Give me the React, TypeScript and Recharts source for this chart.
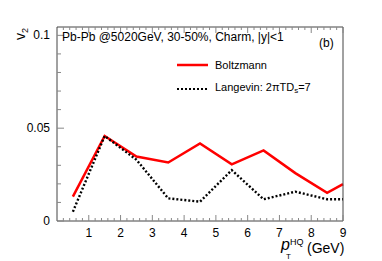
import { Line, LineChart, XAxis, YAxis } from "recharts";

// pT bin centres (GeV) and v2
const PT = [0.5, 1.5, 2.5, 3.5, 4.5, 5.5, 6.5, 7.5, 8.5, 9];
const BOLTZMANN = [0.0131, 0.0458, 0.0347, 0.0315, 0.0418, 0.0305, 0.038, 0.0258, 0.0152, 0.0199];
const LANGEVIN = [0.005, 0.0458, 0.033, 0.0122, 0.0104, 0.0274, 0.0117, 0.0158, 0.0117, 0.0117];

const X_MAJOR = [1, 2, 3, 4, 5, 6, 7, 8, 9];
const Y_MAJOR = [0, 0.05, 0.1];
const Y_LABELS = ["0", "0.05", "0.1"];

const RED = "#ff0000";
const FONT = "'Liberation Sans', Arial, Helvetica, sans-serif";
const FRAME = "#444";
const TICK = "#888";

// ROOT-style minor ticks: 5 per unit on x, every 0.01 on y
const xTicks: number[] = [];
for (let i = 1; i <= 45; i++) xTicks.push(Math.round(i * 2) / 10);
const yTicks: number[] = [];
for (let i = 0; i <= 10; i++) yTicks.push(i / 100);

const isMajorX = (v: number) => X_MAJOR.some((m) => Math.abs(m - v) < 1e-6);
const majorYIndex = (v: number) => Y_MAJOR.findIndex((m) => Math.abs(m - v) < 1e-6);

function XTick({ x, y, payload, side }: any) {
  const major = isMajorX(payload.value);
  const len = major ? 6 : 3;
  const dir = side === "top" ? 1 : -1;
  return (
    <g>
      <line x1={x} x2={x} y1={y} y2={y + dir * len} stroke={TICK} strokeWidth={1} />
      {side === "bottom" && major && (
        <text x={x} y={y + 16} textAnchor="middle" fontSize={12} fontFamily={FONT} fill="#000">
          {payload.value}
        </text>
      )}
    </g>
  );
}

function YTick({ x, y, payload, side }: any) {
  const idx = majorYIndex(payload.value);
  const len = idx >= 0 ? 7 : 4;
  const dir = side === "right" ? -1 : 1;
  return (
    <g>
      <line x1={x} x2={x + dir * len} y1={y} y2={y} stroke={TICK} strokeWidth={1} />
      {side === "left" && idx >= 0 && (
        <text x={x - 7} y={y + 4} textAnchor="end" fontSize={12} fontFamily={FONT} fill="#000">
          {Y_LABELS[idx]}
        </text>
      )}
    </g>
  );
}

const abs = (left: number, top: number, fontSize: number, extra: any = {}) => ({
  position: "absolute" as const,
  left,
  top,
  fontSize,
  lineHeight: `${fontSize}px`,
  whiteSpace: "nowrap" as const,
  ...extra,
});

export default function App() {
  const data = PT.map((pt, i) => ({ pt, boltz: BOLTZMANN[i], lang: LANGEVIN[i] }));

  return (
    <div style={{ position: "relative", width: 382, height: 261, fontFamily: FONT, background: "#fff", overflow: "hidden" }}>
      <style>{"body{margin:0}"}</style>
      <LineChart width={382} height={261} data={data} margin={{ top: 26, right: 38, bottom: 10, left: 0 }}>
        <XAxis
          xAxisId="b"
          dataKey="pt"
          type="number"
          domain={[0, 9]}
          ticks={xTicks}
          interval={0}
          height={30}
          tickSize={0}
          tickMargin={0}
          tickLine={false}
          axisLine={{ stroke: FRAME }}
          tick={(p: any) => <XTick {...p} side="bottom" />}
        />
        <XAxis
          xAxisId="t"
          orientation="top"
          dataKey="pt"
          type="number"
          domain={[0, 9]}
          ticks={xTicks}
          interval={0}
          height={1}
          tickSize={0}
          tickMargin={0}
          tickLine={false}
          axisLine={{ stroke: FRAME }}
          tick={(p: any) => <XTick {...p} side="top" />}
        />
        <YAxis
          yAxisId="l"
          type="number"
          domain={[0, 0.1045]}
          ticks={yTicks}
          interval={0}
          width={57}
          tickSize={0}
          tickMargin={0}
          tickLine={false}
          axisLine={{ stroke: FRAME }}
          tick={(p: any) => <YTick {...p} side="left" />}
        />
        <YAxis
          yAxisId="r"
          orientation="right"
          type="number"
          domain={[0, 0.1045]}
          ticks={yTicks}
          interval={0}
          width={1}
          tickSize={0}
          tickMargin={0}
          tickLine={false}
          axisLine={{ stroke: FRAME }}
          tick={(p: any) => <YTick {...p} side="right" />}
        />
        <Line
          xAxisId="b"
          yAxisId="l"
          type="linear"
          dataKey="boltz"
          stroke={RED}
          strokeWidth={2.5}
          dot={false}
          activeDot={false}
          isAnimationActive={false}
        />
        <Line
          xAxisId="b"
          yAxisId="l"
          type="linear"
          dataKey="lang"
          stroke="#000"
          strokeWidth={2.4}
          strokeDasharray="2 2"
          dot={false}
          activeDot={false}
          isAnimationActive={false}
        />
      </LineChart>

      {/* header text */}
      <div style={abs(62, 31, 12)}>Pb-Pb @5020GeV, 30-50%, Charm, |y|&lt;1</div>
      <div style={abs(319, 37, 12)}>(b)</div>

      {/* legend */}
      <div style={{ position: "absolute", left: 177, top: 58, fontSize: 11, lineHeight: "14px", whiteSpace: "nowrap" }}>
        <div style={{ display: "flex", alignItems: "center", height: 14 }}>
          <svg width={31} height={6}>
            <line x1={0} x2={31} y1={3} y2={3} stroke={RED} strokeWidth={2.5} />
          </svg>
          <span style={{ marginLeft: 7 }}>Boltzmann</span>
        </div>
        <div style={{ display: "flex", alignItems: "center", height: 14, marginTop: 10 }}>
          <svg width={31} height={6}>
            <line x1={0} x2={31} y1={3} y2={3} stroke="#000" strokeWidth={2} strokeDasharray="2 2" />
          </svg>
          <span style={{ marginLeft: 7 }}>
            Langevin: 2πTD<sub style={{ fontSize: 8, verticalAlign: "-2px" }}>s</sub>=7
          </span>
        </div>
      </div>

      {/* y axis title */}
      <div style={abs(13, 40, 14, { transform: "rotate(-90deg)", transformOrigin: "0 0" })}>
        v<sub style={{ fontSize: 9, verticalAlign: "-3px" }}>2</sub>
      </div>

      {/* x axis title */}
      <i style={abs(281, 237, 16)}>p</i>
      <span style={abs(290, 238, 9)}>HQ</span>
      <span style={abs(286, 253, 8)}>T</span>
      <span style={abs(307, 241, 14)}>(GeV)</span>
    </div>
  );
}
